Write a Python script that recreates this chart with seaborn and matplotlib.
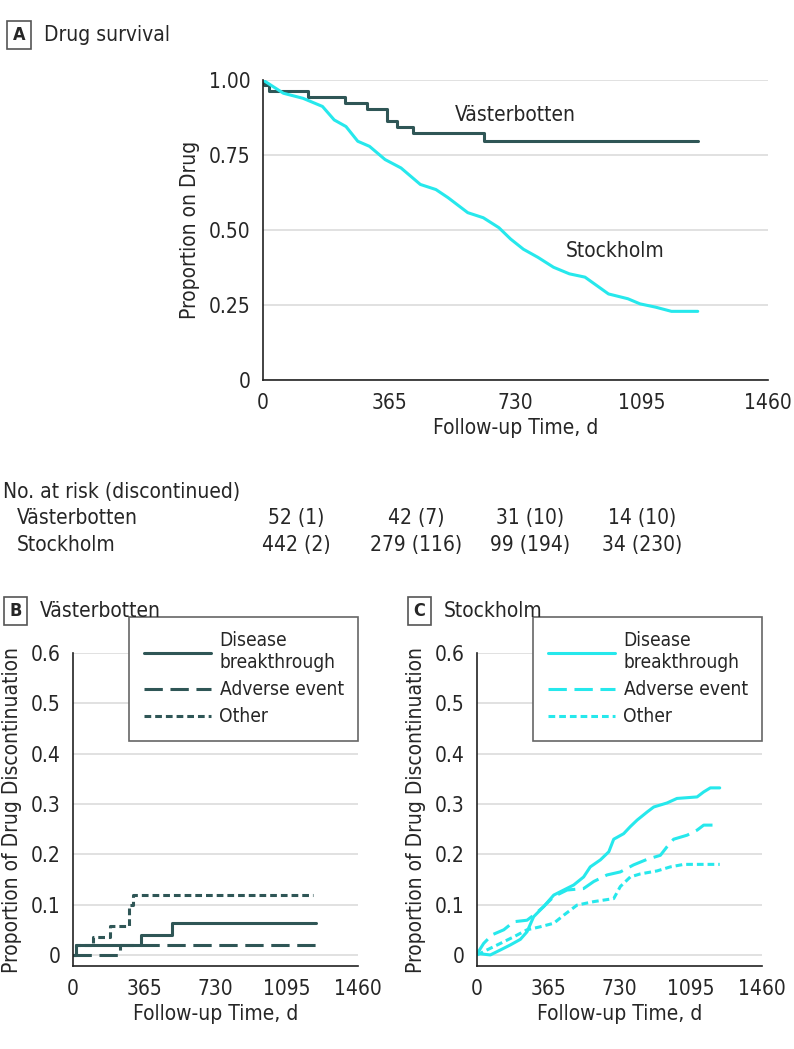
import numpy as np
import matplotlib
matplotlib.use("Agg")
import matplotlib.pyplot as plt
import seaborn as sns

# ---- data ----
# Panel A: Kaplan-Meier drug survival
vb_time = [0, 2, 16, 129, 237, 300, 359, 387, 433, 639, 1257]
vb_surv = [1.0, 0.985, 0.963, 0.945, 0.925, 0.903, 0.864, 0.842, 0.823, 0.798, 0.798]

st_time = [0, 59, 116, 172, 206, 240, 274, 308, 353, 399, 455, 500, 535, 592, 637,
           682, 716, 753, 795, 840, 886, 931, 965, 999, 1055, 1090, 1135, 1181, 1257]
st_surv = [1.0, 0.956, 0.939, 0.912, 0.867, 0.845, 0.796, 0.779, 0.735, 0.707, 0.652,
           0.635, 0.608, 0.558, 0.541, 0.508, 0.470, 0.436, 0.409, 0.376, 0.354, 0.343,
           0.315, 0.287, 0.271, 0.254, 0.243, 0.229, 0.229]

risk_rows = ["Västerbotten", "Stockholm"]
risk_vb = ["52 (1)", "42 (7)", "31 (10)", "14 (10)"]
risk_st = ["442 (2)", "279 (116)", "99 (194)", "34 (230)"]

# Panel B: Västerbotten cumulative incidence by reason
vb_dis_t = [0, 14, 350, 509, 1243]
vb_dis_y = [0, 0.020, 0.040, 0.064, 0.064]
vb_adv_t = [0, 239, 1243]
vb_adv_y = [0, 0.020, 0.020]
vb_oth_t = [0, 17, 102, 188, 287, 307, 1230]
vb_oth_y = [0, 0.020, 0.036, 0.058, 0.099, 0.119, 0.119]

# Panel C: Stockholm cumulative incidence by reason
st_dis_t = [0, 68, 120, 171, 222, 256, 290, 341, 393, 444, 495, 546, 580, 632, 675,
            700, 751, 785, 820, 871, 905, 973, 1024, 1127, 1161, 1195, 1243]
st_dis_y = [0.003, 0.0, 0.010, 0.020, 0.031, 0.046, 0.076, 0.096, 0.119, 0.129, 0.139,
            0.155, 0.175, 0.189, 0.205, 0.230, 0.241, 0.255, 0.268, 0.284, 0.294, 0.302,
            0.311, 0.314, 0.324, 0.332, 0.332]
st_adv_t = [0, 34, 77, 137, 188, 256, 290, 341, 393, 461, 546, 598, 666, 734, 802,
            871, 939, 973, 1007, 1076, 1127, 1161, 1243]
st_adv_y = [0.002, 0.023, 0.040, 0.050, 0.066, 0.069, 0.079, 0.096, 0.116, 0.129, 0.132,
            0.146, 0.159, 0.165, 0.179, 0.190, 0.198, 0.215, 0.230, 0.238, 0.248, 0.258, 0.258]
st_oth_t = [0, 51, 120, 188, 256, 324, 393, 444, 512, 598, 700, 734, 785, 836, 922,
            990, 1059, 1243]
st_oth_y = [0, 0.010, 0.023, 0.036, 0.050, 0.056, 0.063, 0.079, 0.099, 0.106, 0.112,
            0.136, 0.155, 0.161, 0.167, 0.175, 0.180, 0.180]

reasons = ["Disease\nbreakthrough", "Adverse event", "Other"]
x_ticks = [0, 365, 730, 1095, 1460]

dark = "#2f5656"
cyan = "#26e8ec"
grid = "#dcdcdc"

sns.set_style("white")
plt.rcParams["font.family"] = ["DejaVu Sans"]
plt.rcParams["font.stretch"] = "condensed"
FS = 15

fig = plt.figure(figsize=(7.94, 10.49), dpi=100)


def style_axes(ax, yticks, ylabels):
    ax.set_xlim(0, 1460)
    ax.set_xticks(x_ticks)
    ax.set_yticks(yticks)
    ax.set_yticklabels(ylabels)
    for y in yticks:
        ax.axhline(y, color=grid, lw=1.2, zorder=0)
    for s in ["top", "right"]:
        ax.spines[s].set_visible(False)
    for s in ["left", "bottom"]:
        ax.spines[s].set_color("#222222")
        ax.spines[s].set_linewidth(1.2)
    ax.tick_params(axis="both", direction="out", length=6, width=1.2,
                   color="#222222", labelsize=FS, pad=3)
    ax.set_xlabel("Follow-up Time, d", fontsize=FS, labelpad=4)


def panel_label(x, y, letter, title):
    fig.text(x, y, letter, fontsize=13, fontweight="bold", ha="center", va="center",
             bbox=dict(boxstyle="square,pad=0.3", fc="white", ec="#555555", lw=1.2))
    fig.text(x + 0.031, y, title, fontsize=FS, ha="left", va="center")


# ---- Panel A ----
axA = fig.add_axes([0.3312, 0.6377, 0.636, 0.286])
sns.lineplot(x=vb_time, y=vb_surv, color=dark, lw=2.2, drawstyle="steps-post",
             estimator=None, sort=False, ax=axA)
sns.lineplot(x=st_time, y=st_surv, color=cyan, lw=2.2,
             estimator=None, sort=False, ax=axA)
axA.set_ylim(0, 1.0)
style_axes(axA, [0, 0.25, 0.5, 0.75, 1.0], ["0", "0.25", "0.50", "0.75", "1.00"])
axA.set_ylabel("Proportion on Drug", fontsize=FS, labelpad=6)
axA.text(555, 0.883, "Västerbotten", fontsize=FS, ha="left", va="center")
axA.text(876, 0.43, "Stockholm", fontsize=FS, ha="left", va="center")
panel_label(0.024, 0.9666, "A", "Drug survival")

# number at risk table
fig.text(0.004, 1 - 492 / 1049, "No. at risk (discontinued)", fontsize=FS, va="center")
row_y = [1 - 518 / 1049, 1 - 545 / 1049]
col_x = [296 / 794, 416 / 794, 530 / 794, 642 / 794]
for name, vals, yy in zip(risk_rows, [risk_vb, risk_st], row_y):
    fig.text(0.021, yy, name, fontsize=FS, va="center")
    for xx, v in zip(col_x, vals):
        fig.text(xx, yy, v, fontsize=FS, va="center", ha="center")

# ---- Panels B and C ----
panels = [
    ([0.0919, 0.0791, 0.359, 0.2984], dark, "B", "Västerbotten",
     [(vb_dis_t, vb_dis_y), (vb_adv_t, vb_adv_y), (vb_oth_t, vb_oth_y)], 358),
    ([0.6008, 0.0791, 0.359, 0.2984], cyan, "C", "Stockholm",
     [(st_dis_t, st_dis_y), (st_adv_t, st_adv_y), (st_oth_t, st_oth_y)], 762),
]
styles = ["-", (0, (6, 2.5)), (0, (2.2, 1.3))]
for rect, col, letter, title, series, leg_right in panels:
    ax = fig.add_axes(rect)
    step = col == dark
    for (t, y), ls, lab in zip(series, styles, reasons):
        kw = dict(drawstyle="steps-post") if step else {}
        sns.lineplot(x=t, y=y, color=col, lw=2.2, linestyle=ls, label=lab,
                     estimator=None, sort=False, ax=ax, **kw)
    ax.set_ylim(-0.022, 0.6)
    style_axes(ax, [0, 0.1, 0.2, 0.3, 0.4, 0.5, 0.6],
               ["0", "0.1", "0.2", "0.3", "0.4", "0.5", "0.6"])
    ax.set_ylabel("Proportion of Drug Discontinuation", fontsize=FS, labelpad=6)
    leg = ax.legend(loc="upper right", bbox_to_anchor=(leg_right / 794, 1 - 617 / 1049),
                    bbox_transform=fig.transFigure, borderaxespad=0, fontsize=13.8,
                    fancybox=False, framealpha=1, edgecolor="#666666",
                    handlelength=3.5, labelspacing=0.42, borderpad=0.75,
                    handletextpad=0.45)
    leg.get_frame().set_linewidth(1.2)
    leg.set_zorder(5)
    x0 = rect[0] - 0.0725
    panel_label(x0, 1 - 611 / 1049, letter, title)

fig.savefig("out.png", dpi=100)
